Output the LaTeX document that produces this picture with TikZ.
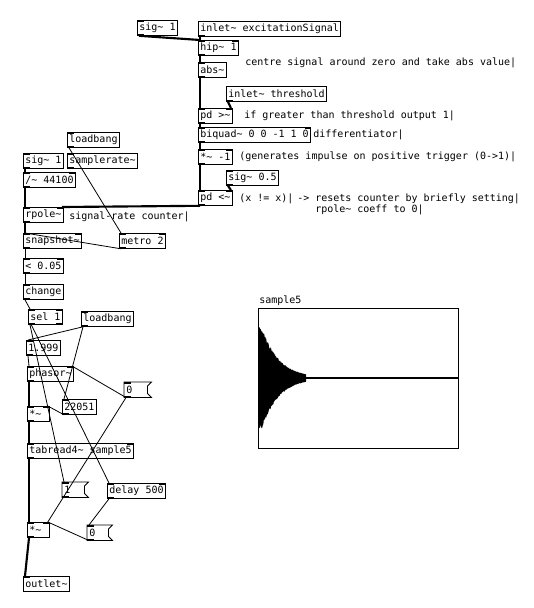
\documentclass[tikz,border=0pt]{standalone}
\usepackage{fontspec}
\newfontfamily\pdfont{DejaVu Sans Mono}
\newcommand\tld{\textasciitilde}
\tikzset{
  pd/.style={font=\pdfont\fontsize{7.5}{9}\selectfont},
  obj/.style={pd, draw, line width=0.6pt, anchor=north west, inner xsep=1.5pt, inner ysep=0pt, minimum height=11.25pt},
  msgt/.style={pd, anchor=north west, inner xsep=1.5pt, inner ysep=0pt, minimum height=11.25pt, text width=#1, align=left},
  fixw/.style={text width=#1, align=left},
  cmt/.style={pd, anchor=west, inner sep=0pt},
  sigc/.style={line width=1.6pt},
  ctl/.style={line width=0.6pt},
}
\newcommand\msgshape[1]{\draw[line width=0.6pt] (#1.north west) -- (#1.north east) -- ([xshift=-3pt,yshift=-3pt]#1.north east) -- ([xshift=-3pt,yshift=3pt]#1.south east) -- (#1.south east) -- (#1.south west) -- cycle;}
\begin{document}
\begin{tikzpicture}[x=0.75pt,y=-0.75pt]
\fill[white] (0,0) rectangle (533,608);
\useasboundingbox (0,0) rectangle (533,608);

% top column
\node[obj] (sigA) at (137,20) {sig\tld{} 1};
\node[obj] (inExc) at (198,21) {inlet\tld{} excitationSignal};
\node[obj] (hip) at (198,40) {hip\tld{} 1};
\node[obj] (abs) at (198,62) {abs\tld};
\node[obj] (inThr) at (226,86) {inlet\tld{} threshold};
\node[obj] (pdgt) at (198,108) {pd >\tld};
\node[obj] (biq) at (198,127) {biquad\tld{} 0 0 -1 1 0};
\node[obj] (mul1) at (198,149) {*\tld{} -1};
\node[obj] (sig05) at (226,170) {sig\tld{} 0.5};
\node[obj] (pdlt) at (198,190) {pd <\tld};

% comments
\node[cmt] (c1) at (245,63) {centre signal around zero and take abs value|};
\node[cmt] (c2) at (244,116) {if greater than threshold output 1|};
\node[cmt] (c3) at (313,135) {differentiator|};
\node[cmt] (c4) at (239,157) {(generates impulse on positive trigger (0->1)|};
\node[cmt] (c5) at (239,199) {(x != x)|};
\node[cmt] (c6) at (297,199) {-> resets counter by briefly setting|};
\node[cmt] (c7) at (315,210) {rpole\tld{} coeff to 0|};
\node[cmt] (c8) at (69,217) {signal-rate counter|};

% left column
\node[obj] (loadA) at (67,132) {loadbang};
\node[obj] (sigB) at (23,153) {sig\tld{} 1};
\node[obj] (srate) at (67,153) {samplerate\tld};
\node[obj] (div) at (23,172) {/\tld{} 44100};
\node[obj] (rpole) at (23,207) {rpole\tld};
\node[obj] (snap) at (23,233) {snapshot\tld};
\node[obj] (metro) at (119,233) {metro 2};
\node[obj] (lt) at (23,258) {< 0.05};
\node[obj] (change) at (23,284) {change};
\node[obj] (sel) at (28,309) {sel 1};
\node[obj] (loadB) at (81,311) {loadbang};
\node[obj] (m1999) at (26,340) {1.999};
\node[obj] (phasor) at (27,366) {phasor\tld};
\node[msgt=17.25pt] (msg0a) at (124,382) {0};
\node[obj, fixw=13.5pt] (mul2) at (27,406) {*\tld};
\node[obj] (m22051) at (62,399) {22051};
\node[obj] (tab) at (27,443) {tabread4\tld{} sample5};
\node[msgt=16.5pt] (msg1) at (62,482) {1};
\node[obj] (delay) at (107,483) {delay 500};
\node[obj, fixw=13.5pt] (mul3) at (27,522) {*\tld};
\node[msgt=15.75pt] (msg0b) at (87,525) {0};
\node[obj] (outlet) at (23,576) {outlet\tld};
\msgshape{msg0a}
\msgshape{msg1}
\msgshape{msg0b}

% ports
\foreach \n in {sigA,hip,abs,pdgt,biq,mul1,sig05,pdlt,loadA,sigB,srate,div,rpole,snap,metro,lt,change,sel,loadB,m1999,phasor,msg0a,mul2,m22051,tab,msg1,delay,mul3,msg0b,outlet}
  \fill (\n.north west) rectangle ++(5pt,-1.2pt);
\foreach \n in {hip,pdgt,biq,mul1,pdlt,div,rpole,snap,metro,lt,sel,phasor,mul2,tab,delay,mul3}
  \fill (\n.north east) rectangle ++(-5pt,-1.2pt);
\foreach \n in {sigA,inExc,hip,abs,inThr,pdgt,biq,mul1,sig05,pdlt,loadA,sigB,srate,div,rpole,snap,metro,lt,change,sel,loadB,m1999,phasor,msg0a,mul2,m22051,tab,msg1,delay,mul3,msg0b}
  \fill (\n.south west) rectangle ++(5pt,1.2pt);
\fill (sel.south east) rectangle ++(-5pt,1.2pt);

% signal connections
\draw[sigc] ([xshift=1.5pt]sigA.south west) -- ([xshift=1.5pt]hip.north west);
\draw[sigc] ([xshift=1.5pt]inExc.south west) -- ([xshift=1.5pt]hip.north west);
\draw[sigc] ([xshift=1.5pt]hip.south west) -- ([xshift=1.5pt]abs.north west);
\draw[sigc] ([xshift=1.5pt]abs.south west) -- ([xshift=1.5pt]pdgt.north west);
\draw[sigc] ([xshift=1.5pt]inThr.south west) -- ([xshift=-1.5pt]pdgt.north east);
\draw[sigc] ([xshift=1.5pt]pdgt.south west) -- ([xshift=1.5pt]biq.north west);
\draw[sigc] ([xshift=1.5pt]biq.south west) -- ([xshift=1.5pt]mul1.north west);
\draw[sigc] ([xshift=1.5pt]mul1.south west) -- ([xshift=1.5pt]pdlt.north west);
\draw[sigc] ([xshift=1.5pt]sig05.south west) -- ([xshift=-1.5pt]pdlt.north east);
\draw[sigc] ([xshift=1.5pt]pdlt.south west) -- ([xshift=-1.5pt]rpole.north east);
\draw[sigc] ([xshift=1.5pt]sigB.south west) -- ([xshift=1.5pt]div.north west);
\draw[sigc] ([xshift=1.5pt]div.south west) -- ([xshift=1.5pt]rpole.north west);
\draw[sigc] ([xshift=1.5pt]rpole.south west) -- ([xshift=1.5pt]snap.north west);
\draw[sigc] ([xshift=1.5pt]phasor.south west) -- ([xshift=1.5pt]mul2.north west);
\draw[sigc] ([xshift=1.5pt]mul2.south west) -- ([xshift=1.5pt]tab.north west);
\draw[sigc] ([xshift=1.5pt]tab.south west) -- ([xshift=1.5pt]mul3.north west);
\draw[sigc] ([xshift=1.5pt]mul3.south west) -- ([xshift=1.5pt]outlet.north west);

% control connections
\draw[ctl] ([xshift=1.5pt]loadA.south west) -- ([xshift=1.5pt]metro.north west);
\draw[ctl] ([xshift=1.5pt]metro.south west) -- ([xshift=1.5pt]snap.north west);
\draw[ctl] ([xshift=1.5pt]snap.south west) -- ([xshift=1.5pt]lt.north west);
\draw[ctl] ([xshift=1.5pt]lt.south west) -- ([xshift=1.5pt]change.north west);
\draw[ctl] ([xshift=1.5pt]change.south west) -- ([xshift=1.5pt]sel.north west);
\draw[ctl] ([xshift=1.5pt]sel.south west) -- ([xshift=1.5pt]msg1.north west);
\draw[ctl] ([xshift=2.5pt]sel.south west) -- ([xshift=1.5pt]delay.north west);
\draw[ctl] ([xshift=1.5pt]loadB.south west) -- ([xshift=1.5pt]m1999.north west);
\draw[ctl] ([xshift=1.5pt]loadB.south west) -- ([xshift=1.5pt]m22051.north west);
\draw[ctl] ([xshift=1.5pt]m1999.south west) -- ([xshift=1.5pt]phasor.north west);
\draw[ctl] ([xshift=1.5pt]m22051.south west) -- ([xshift=-1.5pt]mul2.north east);
\draw[ctl] ([xshift=1.5pt]msg0a.south west) -- ([xshift=-1.5pt]phasor.north east);
\draw[ctl] ([xshift=1.5pt]msg0a.south west) -- ([xshift=-1.5pt]mul3.north east);
\draw[ctl] ([xshift=1.5pt]delay.south west) -- ([xshift=1.5pt]msg0b.north west);
\draw[ctl] ([xshift=1.5pt]msg0b.south west) -- ([xshift=-1.5pt]mul3.north east);

% array
\node[pd, anchor=base west, inner sep=0pt] (arrlabel) at (259,303) {sample5};
\draw[line width=0.6pt] (258,308) rectangle (458,448);
\pgfmathsetseed{7}
\fill plot[domain=258:306, samples=100] (\x,{378-min(51,51*exp(-(\x-262)/17))*(0.9+0.1*rnd)})
  -- plot[domain=306:258, samples=100] (\x,{378+min(51,51*exp(-(\x-262)/17))*(0.9+0.1*rnd)}) -- cycle;
\draw[line width=0.8pt] (300,378) -- (458,378);
\end{tikzpicture}
\end{document}
